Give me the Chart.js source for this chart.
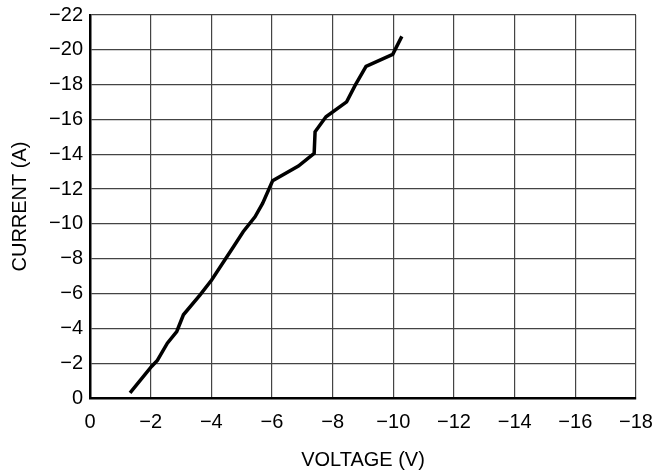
<!DOCTYPE html>
<html>
<head>
<meta charset="utf-8">
<title>Current vs Voltage</title>
<script src="https://cdn.jsdelivr.net/npm/chart.js@4.4.1/dist/chart.umd.min.js"></script>
<style>
    html, body { margin: 0; padding: 0; background: #fff; }
    #wrap { width: 663px; height: 472px; }
</style>
</head>
<body>
<div id="wrap"><canvas id="chart" width="663" height="472"></canvas></div>
<script>
// Valores (V, A)
const voltage = [-1.32, -2.03, -2.22, -2.55, -2.86, -3.08, -3.63, -4.01, -4.73, -5.05, -5.44, -5.69, -6.02, -6.87, -7.39, -7.42, -7.78, -8.46, -8.74, -9.10, -9.98, -10.28];
const current = [-0.29, -1.81, -2.16, -3.15, -3.82, -4.78, -5.92, -6.78, -8.69, -9.55, -10.41, -11.18, -12.48, -13.32, -14.05, -15.29, -16.15, -17.01, -17.96, -19.05, -19.74, -20.77];

const xTicks = [0, -2, -4, -6, -8, -10, -12, -14, -16, -18];
const yTicks = [0, -2, -4, -6, -8, -10, -12, -14, -16, -18, -20, -22];

const FONT = "'Liberation Sans', Arial, sans-serif";
const points = voltage.map((v, i) => ({ x: v, y: current[i] }));

// signo menos tipográfico
const fmt = v => (v < 0 ? "\u2212" + Math.abs(v) : String(v));

new Chart(document.getElementById("chart"), {
    type: "line",
    data: {
        datasets: [{
            data: points,
            borderColor: "#000",
            borderWidth: 3.5,
            pointRadius: 0,
            tension: 0,
            fill: false
        }]
    },
    options: {
        responsive: false,
        animation: false,
        layout: { padding: { left: 0, right: 27, top: 15, bottom: 0 } },
        plugins: { legend: { display: false }, tooltip: { enabled: false } },
        scales: {
            x: {
                type: "linear",
                reverse: true,
                min: -18,
                max: 0,
                afterBuildTicks: s => { s.ticks = xTicks.map(v => ({ value: v })); },
                afterFit: s => {
                    s.height = 74;
                    s.paddingLeft = 0;
                    s.paddingRight = 0;
                },
                ticks: {
                    color: "#000",
                    padding: 12,
                    maxRotation: 0,
                    font: { family: FONT, size: 20 },
                    callback: fmt
                },
                grid: { color: "#444", lineWidth: 1.2, drawTicks: false },
                border: { color: "#000", width: 2.5 },
                title: {
                    display: true,
                    text: "VOLTAGE (V)",
                    color: "#000",
                    font: { family: FONT, size: 20 },
                    padding: { top: 14, bottom: 0 }
                }
            },
            y: {
                type: "linear",
                reverse: true,
                min: -22,
                max: 0,
                afterBuildTicks: s => { s.ticks = yTicks.map(v => ({ value: v })); },
                afterFit: s => {
                    s.width = 90;
                    s.paddingTop = 0;
                    s.paddingBottom = 0;
                },
                ticks: {
                    color: "#000",
                    padding: 7,
                    font: { family: FONT, size: 20 },
                    callback: fmt
                },
                grid: { color: "#444", lineWidth: 1.2, drawTicks: false },
                border: { color: "#000", width: 2.5 },
                title: {
                    display: true,
                    text: "CURRENT (A)",
                    color: "#000",
                    font: { family: FONT, size: 20 },
                    padding: { top: 8, bottom: 10 }
                }
            }
        }
    }
});
</script>
</body>
</html>
